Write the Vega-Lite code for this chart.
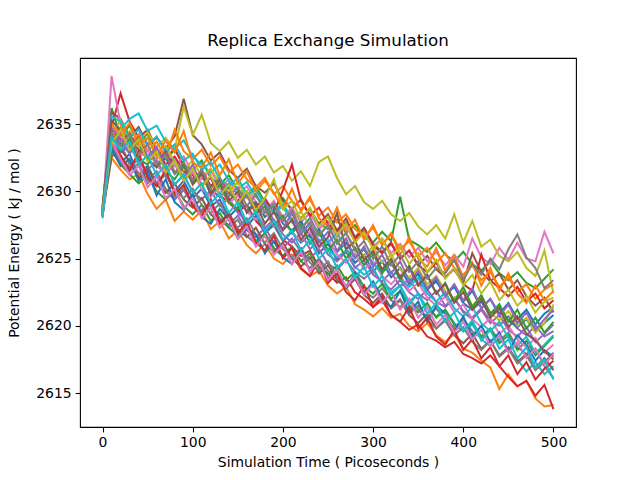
{
  "$schema": "https://vega.github.io/schema/vega-lite/v6.json",
  "width": 496,
  "height": 369,
  "autosize": {"type": "none"},
  "padding": {"left": 80, "top": 58, "right": 64, "bottom": 53},
  "background": "white",
  "title": {"text": "Replica Exchange Simulation", "fontSize": 16.7, "font": "DejaVu Sans", "fontWeight": "normal", "color": "black", "offset": 8},
  "data": {"values": [
{"r":0,"t":0,"e":2628.4},{"r":0,"t":10,"e":2633.0},{"r":0,"t":20,"e":2632.1},{"r":0,"t":30,"e":2632.8},{"r":0,"t":40,"e":2631.2},{"r":0,"t":50,"e":2631.9},{"r":0,"t":60,"e":2630.6},{"r":0,"t":70,"e":2631.3},{"r":0,"t":80,"e":2630.0},{"r":0,"t":90,"e":2630.8},{"r":0,"t":100,"e":2629.5},{"r":0,"t":110,"e":2630.2},{"r":0,"t":120,"e":2628.9},{"r":0,"t":130,"e":2629.4},{"r":0,"t":140,"e":2628.1},{"r":0,"t":150,"e":2628.8},{"r":0,"t":160,"e":2627.4},{"r":0,"t":170,"e":2628.2},{"r":0,"t":180,"e":2626.9},{"r":0,"t":190,"e":2627.5},{"r":0,"t":200,"e":2626.3},{"r":0,"t":210,"e":2627.0},{"r":0,"t":220,"e":2626.2},{"r":0,"t":230,"e":2626.8},{"r":0,"t":240,"e":2625.4},{"r":0,"t":250,"e":2626.1},{"r":0,"t":260,"e":2624.9},{"r":0,"t":270,"e":2625.6},{"r":0,"t":280,"e":2624.7},{"r":0,"t":290,"e":2625.3},{"r":0,"t":300,"e":2624.0},{"r":0,"t":310,"e":2624.8},{"r":0,"t":320,"e":2623.6},{"r":0,"t":330,"e":2624.3},{"r":0,"t":340,"e":2623.1},{"r":0,"t":350,"e":2623.9},{"r":0,"t":360,"e":2622.7},{"r":0,"t":370,"e":2623.4},{"r":0,"t":380,"e":2622.2},{"r":0,"t":390,"e":2623.0},{"r":0,"t":400,"e":2621.8},{"r":0,"t":410,"e":2622.6},{"r":0,"t":420,"e":2621.3},{"r":0,"t":430,"e":2622.0},{"r":0,"t":440,"e":2620.9},{"r":0,"t":450,"e":2621.7},{"r":0,"t":460,"e":2620.5},{"r":0,"t":470,"e":2621.2},{"r":0,"t":480,"e":2620.1},{"r":0,"t":490,"e":2620.9},{"r":0,"t":500,"e":2621.4},
{"r":1,"t":0,"e":2628.2},{"r":1,"t":10,"e":2632.5},{"r":1,"t":20,"e":2631.6},{"r":1,"t":30,"e":2630.9},{"r":1,"t":40,"e":2631.3},{"r":1,"t":50,"e":2629.8},{"r":1,"t":60,"e":2628.7},{"r":1,"t":70,"e":2629.4},{"r":1,"t":80,"e":2627.8},{"r":1,"t":90,"e":2628.5},{"r":1,"t":100,"e":2627.9},{"r":1,"t":110,"e":2628.6},{"r":1,"t":120,"e":2627.2},{"r":1,"t":130,"e":2627.8},{"r":1,"t":140,"e":2626.5},{"r":1,"t":150,"e":2627.1},{"r":1,"t":160,"e":2626.0},{"r":1,"t":170,"e":2625.4},{"r":1,"t":180,"e":2626.1},{"r":1,"t":190,"e":2625.0},{"r":1,"t":200,"e":2624.6},{"r":1,"t":210,"e":2625.3},{"r":1,"t":220,"e":2624.2},{"r":1,"t":230,"e":2623.7},{"r":1,"t":240,"e":2624.1},{"r":1,"t":250,"e":2623.0},{"r":1,"t":260,"e":2622.4},{"r":1,"t":270,"e":2622.9},{"r":1,"t":280,"e":2621.6},{"r":1,"t":290,"e":2621.2},{"r":1,"t":300,"e":2620.7},{"r":1,"t":310,"e":2621.3},{"r":1,"t":320,"e":2620.6},{"r":1,"t":330,"e":2620.9},{"r":1,"t":340,"e":2620.0},{"r":1,"t":350,"e":2619.6},{"r":1,"t":360,"e":2620.2},{"r":1,"t":370,"e":2619.3},{"r":1,"t":380,"e":2618.8},{"r":1,"t":390,"e":2619.4},{"r":1,"t":400,"e":2618.3},{"r":1,"t":410,"e":2618.0},{"r":1,"t":420,"e":2617.4},{"r":1,"t":430,"e":2616.9},{"r":1,"t":440,"e":2615.3},{"r":1,"t":450,"e":2616.4},{"r":1,"t":460,"e":2615.5},{"r":1,"t":470,"e":2615.9},{"r":1,"t":480,"e":2614.6},{"r":1,"t":490,"e":2614.0},{"r":1,"t":500,"e":2614.1},
{"r":2,"t":0,"e":2628.6},{"r":2,"t":10,"e":2636.2},{"r":2,"t":20,"e":2634.1},{"r":2,"t":30,"e":2634.9},{"r":2,"t":40,"e":2633.6},{"r":2,"t":50,"e":2634.3},{"r":2,"t":60,"e":2633.0},{"r":2,"t":70,"e":2632.4},{"r":2,"t":80,"e":2633.1},{"r":2,"t":90,"e":2632.0},{"r":2,"t":100,"e":2631.6},{"r":2,"t":110,"e":2632.3},{"r":2,"t":120,"e":2631.0},{"r":2,"t":130,"e":2630.5},{"r":2,"t":140,"e":2631.2},{"r":2,"t":150,"e":2630.1},{"r":2,"t":160,"e":2629.7},{"r":2,"t":170,"e":2630.4},{"r":2,"t":180,"e":2629.2},{"r":2,"t":190,"e":2628.8},{"r":2,"t":200,"e":2629.5},{"r":2,"t":210,"e":2628.6},{"r":2,"t":220,"e":2628.0},{"r":2,"t":230,"e":2628.7},{"r":2,"t":240,"e":2627.6},{"r":2,"t":250,"e":2627.2},{"r":2,"t":260,"e":2627.9},{"r":2,"t":270,"e":2626.9},{"r":2,"t":280,"e":2627.5},{"r":2,"t":290,"e":2626.6},{"r":2,"t":300,"e":2626.2},{"r":2,"t":310,"e":2627.0},{"r":2,"t":320,"e":2626.3},{"r":2,"t":330,"e":2629.6},{"r":2,"t":340,"e":2626.4},{"r":2,"t":350,"e":2626.0},{"r":2,"t":360,"e":2625.5},{"r":2,"t":370,"e":2626.2},{"r":2,"t":380,"e":2625.3},{"r":2,"t":390,"e":2624.8},{"r":2,"t":400,"e":2625.5},{"r":2,"t":410,"e":2624.6},{"r":2,"t":420,"e":2624.1},{"r":2,"t":430,"e":2624.8},{"r":2,"t":440,"e":2623.9},{"r":2,"t":450,"e":2623.4},{"r":2,"t":460,"e":2624.0},{"r":2,"t":470,"e":2623.2},{"r":2,"t":480,"e":2622.8},{"r":2,"t":490,"e":2623.5},{"r":2,"t":500,"e":2624.2},
{"r":3,"t":0,"e":2628.3},{"r":3,"t":10,"e":2634.8},{"r":3,"t":20,"e":2637.3},{"r":3,"t":30,"e":2635.2},{"r":3,"t":40,"e":2634.0},{"r":3,"t":50,"e":2634.6},{"r":3,"t":60,"e":2633.1},{"r":3,"t":70,"e":2632.5},{"r":3,"t":80,"e":2633.2},{"r":3,"t":90,"e":2631.8},{"r":3,"t":100,"e":2631.2},{"r":3,"t":110,"e":2630.5},{"r":3,"t":120,"e":2631.0},{"r":3,"t":130,"e":2629.7},{"r":3,"t":140,"e":2629.2},{"r":3,"t":150,"e":2628.5},{"r":3,"t":160,"e":2629.0},{"r":3,"t":170,"e":2627.8},{"r":3,"t":180,"e":2627.1},{"r":3,"t":190,"e":2627.6},{"r":3,"t":200,"e":2626.4},{"r":3,"t":210,"e":2625.9},{"r":3,"t":220,"e":2625.2},{"r":3,"t":230,"e":2625.6},{"r":3,"t":240,"e":2624.4},{"r":3,"t":250,"e":2623.9},{"r":3,"t":260,"e":2623.2},{"r":3,"t":270,"e":2623.6},{"r":3,"t":280,"e":2622.5},{"r":3,"t":290,"e":2622.0},{"r":3,"t":300,"e":2621.4},{"r":3,"t":310,"e":2621.9},{"r":3,"t":320,"e":2620.8},{"r":3,"t":330,"e":2620.3},{"r":3,"t":340,"e":2619.7},{"r":3,"t":350,"e":2620.1},{"r":3,"t":360,"e":2619.2},{"r":3,"t":370,"e":2618.9},{"r":3,"t":380,"e":2618.4},{"r":3,"t":390,"e":2618.8},{"r":3,"t":400,"e":2617.9},{"r":3,"t":410,"e":2617.6},{"r":3,"t":420,"e":2617.2},{"r":3,"t":430,"e":2617.8},{"r":3,"t":440,"e":2617.0},{"r":3,"t":450,"e":2616.2},{"r":3,"t":460,"e":2615.5},{"r":3,"t":470,"e":2615.9},{"r":3,"t":480,"e":2614.8},{"r":3,"t":490,"e":2615.6},{"r":3,"t":500,"e":2613.8},
{"r":4,"t":0,"e":2628.5},{"r":4,"t":10,"e":2633.4},{"r":4,"t":20,"e":2632.2},{"r":4,"t":30,"e":2631.5},{"r":4,"t":40,"e":2632.1},{"r":4,"t":50,"e":2630.6},{"r":4,"t":60,"e":2631.2},{"r":4,"t":70,"e":2630.0},{"r":4,"t":80,"e":2629.4},{"r":4,"t":90,"e":2630.1},{"r":4,"t":100,"e":2629.0},{"r":4,"t":110,"e":2628.6},{"r":4,"t":120,"e":2629.2},{"r":4,"t":130,"e":2628.0},{"r":4,"t":140,"e":2627.5},{"r":4,"t":150,"e":2628.2},{"r":4,"t":160,"e":2627.1},{"r":4,"t":170,"e":2626.6},{"r":4,"t":180,"e":2627.3},{"r":4,"t":190,"e":2626.2},{"r":4,"t":200,"e":2625.8},{"r":4,"t":210,"e":2626.5},{"r":4,"t":220,"e":2625.5},{"r":4,"t":230,"e":2625.0},{"r":4,"t":240,"e":2625.7},{"r":4,"t":250,"e":2624.6},{"r":4,"t":260,"e":2624.2},{"r":4,"t":270,"e":2624.9},{"r":4,"t":280,"e":2624.0},{"r":4,"t":290,"e":2623.5},{"r":4,"t":300,"e":2624.1},{"r":4,"t":310,"e":2623.2},{"r":4,"t":320,"e":2622.7},{"r":4,"t":330,"e":2623.4},{"r":4,"t":340,"e":2622.5},{"r":4,"t":350,"e":2622.0},{"r":4,"t":360,"e":2622.7},{"r":4,"t":370,"e":2621.8},{"r":4,"t":380,"e":2621.4},{"r":4,"t":390,"e":2622.0},{"r":4,"t":400,"e":2621.1},{"r":4,"t":410,"e":2620.6},{"r":4,"t":420,"e":2621.3},{"r":4,"t":430,"e":2620.4},{"r":4,"t":440,"e":2620.0},{"r":4,"t":450,"e":2620.7},{"r":4,"t":460,"e":2619.8},{"r":4,"t":470,"e":2619.3},{"r":4,"t":480,"e":2620.0},{"r":4,"t":490,"e":2619.2},{"r":4,"t":500,"e":2619.6},
{"r":5,"t":0,"e":2628.7},{"r":5,"t":10,"e":2635.9},{"r":5,"t":20,"e":2635.4},{"r":5,"t":30,"e":2634.1},{"r":5,"t":40,"e":2634.8},{"r":5,"t":50,"e":2633.5},{"r":5,"t":60,"e":2634.0},{"r":5,"t":70,"e":2633.2},{"r":5,"t":80,"e":2634.1},{"r":5,"t":90,"e":2636.9},{"r":5,"t":100,"e":2634.2},{"r":5,"t":110,"e":2633.5},{"r":5,"t":120,"e":2632.3},{"r":5,"t":130,"e":2632.9},{"r":5,"t":140,"e":2631.6},{"r":5,"t":150,"e":2631.0},{"r":5,"t":160,"e":2631.7},{"r":5,"t":170,"e":2630.4},{"r":5,"t":180,"e":2629.9},{"r":5,"t":190,"e":2630.6},{"r":5,"t":200,"e":2629.3},{"r":5,"t":210,"e":2628.7},{"r":5,"t":220,"e":2629.4},{"r":5,"t":230,"e":2628.2},{"r":5,"t":240,"e":2627.6},{"r":5,"t":250,"e":2628.3},{"r":5,"t":260,"e":2627.1},{"r":5,"t":270,"e":2628.0},{"r":5,"t":280,"e":2626.6},{"r":5,"t":290,"e":2627.3},{"r":5,"t":300,"e":2626.1},{"r":5,"t":310,"e":2625.5},{"r":5,"t":320,"e":2626.2},{"r":5,"t":330,"e":2625.0},{"r":5,"t":340,"e":2625.6},{"r":5,"t":350,"e":2624.5},{"r":5,"t":360,"e":2625.2},{"r":5,"t":370,"e":2624.2},{"r":5,"t":380,"e":2623.6},{"r":5,"t":390,"e":2624.3},{"r":5,"t":400,"e":2623.2},{"r":5,"t":410,"e":2625.4},{"r":5,"t":420,"e":2624.0},{"r":5,"t":430,"e":2623.3},{"r":5,"t":440,"e":2623.9},{"r":5,"t":450,"e":2622.7},{"r":5,"t":460,"e":2623.4},{"r":5,"t":470,"e":2622.2},{"r":5,"t":480,"e":2621.5},{"r":5,"t":490,"e":2622.1},{"r":5,"t":500,"e":2621.0},
{"r":6,"t":0,"e":2628.1},{"r":6,"t":10,"e":2638.6},{"r":6,"t":20,"e":2635.0},{"r":6,"t":30,"e":2633.6},{"r":6,"t":40,"e":2634.3},{"r":6,"t":50,"e":2633.0},{"r":6,"t":60,"e":2632.4},{"r":6,"t":70,"e":2633.1},{"r":6,"t":80,"e":2631.9},{"r":6,"t":90,"e":2632.6},{"r":6,"t":100,"e":2631.4},{"r":6,"t":110,"e":2630.9},{"r":6,"t":120,"e":2631.6},{"r":6,"t":130,"e":2630.3},{"r":6,"t":140,"e":2630.9},{"r":6,"t":150,"e":2629.7},{"r":6,"t":160,"e":2630.4},{"r":6,"t":170,"e":2629.2},{"r":6,"t":180,"e":2628.6},{"r":6,"t":190,"e":2629.3},{"r":6,"t":200,"e":2628.1},{"r":6,"t":210,"e":2628.8},{"r":6,"t":220,"e":2627.7},{"r":6,"t":230,"e":2628.4},{"r":6,"t":240,"e":2627.2},{"r":6,"t":250,"e":2627.8},{"r":6,"t":260,"e":2626.6},{"r":6,"t":270,"e":2627.4},{"r":6,"t":280,"e":2626.3},{"r":6,"t":290,"e":2627.0},{"r":6,"t":300,"e":2625.9},{"r":6,"t":310,"e":2626.5},{"r":6,"t":320,"e":2625.4},{"r":6,"t":330,"e":2626.1},{"r":6,"t":340,"e":2625.1},{"r":6,"t":350,"e":2625.8},{"r":6,"t":360,"e":2624.8},{"r":6,"t":370,"e":2625.5},{"r":6,"t":380,"e":2624.5},{"r":6,"t":390,"e":2625.3},{"r":6,"t":400,"e":2624.4},{"r":6,"t":410,"e":2626.5},{"r":6,"t":420,"e":2625.1},{"r":6,"t":430,"e":2624.6},{"r":6,"t":440,"e":2625.8},{"r":6,"t":450,"e":2624.9},{"r":6,"t":460,"e":2626.2},{"r":6,"t":470,"e":2625.0},{"r":6,"t":480,"e":2624.8},{"r":6,"t":490,"e":2627.0},{"r":6,"t":500,"e":2625.4},
{"r":7,"t":0,"e":2628.4},{"r":7,"t":10,"e":2632.8},{"r":7,"t":20,"e":2633.6},{"r":7,"t":30,"e":2632.0},{"r":7,"t":40,"e":2631.4},{"r":7,"t":50,"e":2630.8},{"r":7,"t":60,"e":2631.5},{"r":7,"t":70,"e":2630.2},{"r":7,"t":80,"e":2629.6},{"r":7,"t":90,"e":2630.3},{"r":7,"t":100,"e":2629.1},{"r":7,"t":110,"e":2628.5},{"r":7,"t":120,"e":2629.0},{"r":7,"t":130,"e":2627.9},{"r":7,"t":140,"e":2627.3},{"r":7,"t":150,"e":2627.9},{"r":7,"t":160,"e":2626.7},{"r":7,"t":170,"e":2626.1},{"r":7,"t":180,"e":2626.8},{"r":7,"t":190,"e":2625.7},{"r":7,"t":200,"e":2625.2},{"r":7,"t":210,"e":2625.9},{"r":7,"t":220,"e":2624.8},{"r":7,"t":230,"e":2624.3},{"r":7,"t":240,"e":2625.0},{"r":7,"t":250,"e":2624.1},{"r":7,"t":260,"e":2623.6},{"r":7,"t":270,"e":2622.9},{"r":7,"t":280,"e":2623.5},{"r":7,"t":290,"e":2622.6},{"r":7,"t":300,"e":2622.1},{"r":7,"t":310,"e":2622.8},{"r":7,"t":320,"e":2621.9},{"r":7,"t":330,"e":2621.4},{"r":7,"t":340,"e":2622.0},{"r":7,"t":350,"e":2621.2},{"r":7,"t":360,"e":2620.6},{"r":7,"t":370,"e":2621.3},{"r":7,"t":380,"e":2620.4},{"r":7,"t":390,"e":2619.9},{"r":7,"t":400,"e":2620.5},{"r":7,"t":410,"e":2619.6},{"r":7,"t":420,"e":2619.1},{"r":7,"t":430,"e":2619.8},{"r":7,"t":440,"e":2618.9},{"r":7,"t":450,"e":2619.5},{"r":7,"t":460,"e":2618.4},{"r":7,"t":470,"e":2617.9},{"r":7,"t":480,"e":2618.3},{"r":7,"t":490,"e":2617.0},{"r":7,"t":500,"e":2616.1},
{"r":8,"t":0,"e":2628.9},{"r":8,"t":10,"e":2634.0},{"r":8,"t":20,"e":2633.2},{"r":8,"t":30,"e":2634.5},{"r":8,"t":40,"e":2633.8},{"r":8,"t":50,"e":2634.4},{"r":8,"t":60,"e":2633.3},{"r":8,"t":70,"e":2634.0},{"r":8,"t":80,"e":2633.1},{"r":8,"t":90,"e":2636.3},{"r":8,"t":100,"e":2634.2},{"r":8,"t":110,"e":2635.7},{"r":8,"t":120,"e":2633.6},{"r":8,"t":130,"e":2633.0},{"r":8,"t":140,"e":2633.7},{"r":8,"t":150,"e":2632.5},{"r":8,"t":160,"e":2633.1},{"r":8,"t":170,"e":2632.0},{"r":8,"t":180,"e":2632.6},{"r":8,"t":190,"e":2631.4},{"r":8,"t":200,"e":2631.9},{"r":8,"t":210,"e":2630.8},{"r":8,"t":220,"e":2631.5},{"r":8,"t":230,"e":2630.4},{"r":8,"t":240,"e":2632.2},{"r":8,"t":250,"e":2632.6},{"r":8,"t":260,"e":2631.0},{"r":8,"t":270,"e":2629.8},{"r":8,"t":280,"e":2630.4},{"r":8,"t":290,"e":2629.2},{"r":8,"t":300,"e":2628.7},{"r":8,"t":310,"e":2629.3},{"r":8,"t":320,"e":2628.3},{"r":8,"t":330,"e":2627.8},{"r":8,"t":340,"e":2628.4},{"r":8,"t":350,"e":2627.4},{"r":8,"t":360,"e":2626.8},{"r":8,"t":370,"e":2627.5},{"r":8,"t":380,"e":2626.5},{"r":8,"t":390,"e":2628.3},{"r":8,"t":400,"e":2626.2},{"r":8,"t":410,"e":2627.8},{"r":8,"t":420,"e":2625.9},{"r":8,"t":430,"e":2626.4},{"r":8,"t":440,"e":2625.2},{"r":8,"t":450,"e":2624.8},{"r":8,"t":460,"e":2625.5},{"r":8,"t":470,"e":2624.3},{"r":8,"t":480,"e":2623.7},{"r":8,"t":490,"e":2625.6},{"r":8,"t":500,"e":2622.4},
{"r":9,"t":0,"e":2628.0},{"r":9,"t":10,"e":2635.2},{"r":9,"t":20,"e":2634.6},{"r":9,"t":30,"e":2635.4},{"r":9,"t":40,"e":2635.8},{"r":9,"t":50,"e":2634.5},{"r":9,"t":60,"e":2634.9},{"r":9,"t":70,"e":2633.7},{"r":9,"t":80,"e":2633.2},{"r":9,"t":90,"e":2633.8},{"r":9,"t":100,"e":2632.6},{"r":9,"t":110,"e":2632.0},{"r":9,"t":120,"e":2631.4},{"r":9,"t":130,"e":2632.0},{"r":9,"t":140,"e":2630.8},{"r":9,"t":150,"e":2630.2},{"r":9,"t":160,"e":2630.7},{"r":9,"t":170,"e":2629.6},{"r":9,"t":180,"e":2629.0},{"r":9,"t":190,"e":2628.4},{"r":9,"t":200,"e":2628.9},{"r":9,"t":210,"e":2627.7},{"r":9,"t":220,"e":2627.0},{"r":9,"t":230,"e":2627.5},{"r":9,"t":240,"e":2626.3},{"r":9,"t":250,"e":2625.7},{"r":9,"t":260,"e":2625.1},{"r":9,"t":270,"e":2625.6},{"r":9,"t":280,"e":2624.4},{"r":9,"t":290,"e":2623.8},{"r":9,"t":300,"e":2624.3},{"r":9,"t":310,"e":2623.1},{"r":9,"t":320,"e":2622.5},{"r":9,"t":330,"e":2623.0},{"r":9,"t":340,"e":2621.8},{"r":9,"t":350,"e":2622.4},{"r":9,"t":360,"e":2621.3},{"r":9,"t":370,"e":2620.7},{"r":9,"t":380,"e":2621.2},{"r":9,"t":390,"e":2620.2},{"r":9,"t":400,"e":2619.6},{"r":9,"t":410,"e":2620.1},{"r":9,"t":420,"e":2619.0},{"r":9,"t":430,"e":2618.5},{"r":9,"t":440,"e":2619.1},{"r":9,"t":450,"e":2618.2},{"r":9,"t":460,"e":2617.5},{"r":9,"t":470,"e":2616.6},{"r":9,"t":480,"e":2617.3},{"r":9,"t":490,"e":2616.4},{"r":9,"t":500,"e":2617.0},
{"r":10,"t":0,"e":2628.6},{"r":10,"t":10,"e":2634.4},{"r":10,"t":20,"e":2633.5},{"r":10,"t":30,"e":2632.9},{"r":10,"t":40,"e":2633.5},{"r":10,"t":50,"e":2632.3},{"r":10,"t":60,"e":2631.8},{"r":10,"t":70,"e":2632.5},{"r":10,"t":80,"e":2631.3},{"r":10,"t":90,"e":2631.9},{"r":10,"t":100,"e":2630.7},{"r":10,"t":110,"e":2631.3},{"r":10,"t":120,"e":2630.1},{"r":10,"t":130,"e":2629.6},{"r":10,"t":140,"e":2630.3},{"r":10,"t":150,"e":2629.1},{"r":10,"t":160,"e":2628.6},{"r":10,"t":170,"e":2629.2},{"r":10,"t":180,"e":2628.1},{"r":10,"t":190,"e":2628.7},{"r":10,"t":200,"e":2627.6},{"r":10,"t":210,"e":2627.1},{"r":10,"t":220,"e":2627.8},{"r":10,"t":230,"e":2626.6},{"r":10,"t":240,"e":2627.2},{"r":10,"t":250,"e":2626.1},{"r":10,"t":260,"e":2625.5},{"r":10,"t":270,"e":2626.2},{"r":10,"t":280,"e":2625.1},{"r":10,"t":290,"e":2625.7},{"r":10,"t":300,"e":2624.6},{"r":10,"t":310,"e":2624.1},{"r":10,"t":320,"e":2624.7},{"r":10,"t":330,"e":2623.6},{"r":10,"t":340,"e":2624.3},{"r":10,"t":350,"e":2623.2},{"r":10,"t":360,"e":2622.7},{"r":10,"t":370,"e":2623.3},{"r":10,"t":380,"e":2622.3},{"r":10,"t":390,"e":2622.9},{"r":10,"t":400,"e":2621.7},{"r":10,"t":410,"e":2621.2},{"r":10,"t":420,"e":2621.8},{"r":10,"t":430,"e":2620.8},{"r":10,"t":440,"e":2621.4},{"r":10,"t":450,"e":2620.4},{"r":10,"t":460,"e":2619.9},{"r":10,"t":470,"e":2620.5},{"r":10,"t":480,"e":2619.6},{"r":10,"t":490,"e":2620.2},{"r":10,"t":500,"e":2620.8},
{"r":11,"t":0,"e":2628.3},{"r":11,"t":10,"e":2633.9},{"r":11,"t":20,"e":2634.8},{"r":11,"t":30,"e":2633.6},{"r":11,"t":40,"e":2634.2},{"r":11,"t":50,"e":2633.0},{"r":11,"t":60,"e":2633.7},{"r":11,"t":70,"e":2632.5},{"r":11,"t":80,"e":2634.6},{"r":11,"t":90,"e":2633.0},{"r":11,"t":100,"e":2632.4},{"r":11,"t":110,"e":2633.1},{"r":11,"t":120,"e":2631.9},{"r":11,"t":130,"e":2632.6},{"r":11,"t":140,"e":2631.4},{"r":11,"t":150,"e":2632.0},{"r":11,"t":160,"e":2630.9},{"r":11,"t":170,"e":2630.3},{"r":11,"t":180,"e":2631.0},{"r":11,"t":190,"e":2629.8},{"r":11,"t":200,"e":2630.4},{"r":11,"t":210,"e":2629.3},{"r":11,"t":220,"e":2628.7},{"r":11,"t":230,"e":2629.4},{"r":11,"t":240,"e":2628.2},{"r":11,"t":250,"e":2628.8},{"r":11,"t":260,"e":2627.7},{"r":11,"t":270,"e":2628.3},{"r":11,"t":280,"e":2627.2},{"r":11,"t":290,"e":2626.6},{"r":11,"t":300,"e":2627.3},{"r":11,"t":310,"e":2626.1},{"r":11,"t":320,"e":2626.8},{"r":11,"t":330,"e":2625.7},{"r":11,"t":340,"e":2626.3},{"r":11,"t":350,"e":2625.2},{"r":11,"t":360,"e":2625.8},{"r":11,"t":370,"e":2624.7},{"r":11,"t":380,"e":2625.4},{"r":11,"t":390,"e":2624.3},{"r":11,"t":400,"e":2623.8},{"r":11,"t":410,"e":2624.5},{"r":11,"t":420,"e":2623.4},{"r":11,"t":430,"e":2624.0},{"r":11,"t":440,"e":2622.9},{"r":11,"t":450,"e":2623.6},{"r":11,"t":460,"e":2622.5},{"r":11,"t":470,"e":2623.1},{"r":11,"t":480,"e":2622.0},{"r":11,"t":490,"e":2622.7},{"r":11,"t":500,"e":2623.1},
{"r":12,"t":0,"e":2628.2},{"r":12,"t":10,"e":2633.1},{"r":12,"t":20,"e":2632.0},{"r":12,"t":30,"e":2631.3},{"r":12,"t":40,"e":2630.6},{"r":12,"t":50,"e":2631.2},{"r":12,"t":60,"e":2630.0},{"r":12,"t":70,"e":2629.4},{"r":12,"t":80,"e":2630.1},{"r":12,"t":90,"e":2628.9},{"r":12,"t":100,"e":2628.3},{"r":12,"t":110,"e":2629.0},{"r":12,"t":120,"e":2627.8},{"r":12,"t":130,"e":2628.4},{"r":12,"t":140,"e":2627.3},{"r":12,"t":150,"e":2626.7},{"r":12,"t":160,"e":2627.4},{"r":12,"t":170,"e":2626.3},{"r":12,"t":180,"e":2626.9},{"r":12,"t":190,"e":2625.8},{"r":12,"t":200,"e":2625.2},{"r":12,"t":210,"e":2625.9},{"r":12,"t":220,"e":2624.8},{"r":12,"t":230,"e":2625.4},{"r":12,"t":240,"e":2624.3},{"r":12,"t":250,"e":2623.8},{"r":12,"t":260,"e":2624.5},{"r":12,"t":270,"e":2623.4},{"r":12,"t":280,"e":2624.0},{"r":12,"t":290,"e":2622.9},{"r":12,"t":300,"e":2622.4},{"r":12,"t":310,"e":2623.1},{"r":12,"t":320,"e":2622.0},{"r":12,"t":330,"e":2622.6},{"r":12,"t":340,"e":2621.5},{"r":12,"t":350,"e":2621.0},{"r":12,"t":360,"e":2621.7},{"r":12,"t":370,"e":2620.6},{"r":12,"t":380,"e":2621.2},{"r":12,"t":390,"e":2620.1},{"r":12,"t":400,"e":2619.6},{"r":12,"t":410,"e":2620.3},{"r":12,"t":420,"e":2619.2},{"r":12,"t":430,"e":2619.8},{"r":12,"t":440,"e":2618.7},{"r":12,"t":450,"e":2619.3},{"r":12,"t":460,"e":2618.2},{"r":12,"t":470,"e":2618.9},{"r":12,"t":480,"e":2617.8},{"r":12,"t":490,"e":2618.5},{"r":12,"t":500,"e":2619.2},
{"r":13,"t":0,"e":2628.8},{"r":13,"t":10,"e":2634.6},{"r":13,"t":20,"e":2633.8},{"r":13,"t":30,"e":2634.3},{"r":13,"t":40,"e":2633.1},{"r":13,"t":50,"e":2632.5},{"r":13,"t":60,"e":2633.2},{"r":13,"t":70,"e":2632.0},{"r":13,"t":80,"e":2632.6},{"r":13,"t":90,"e":2631.5},{"r":13,"t":100,"e":2630.9},{"r":13,"t":110,"e":2631.6},{"r":13,"t":120,"e":2630.4},{"r":13,"t":130,"e":2631.0},{"r":13,"t":140,"e":2629.9},{"r":13,"t":150,"e":2629.3},{"r":13,"t":160,"e":2630.0},{"r":13,"t":170,"e":2628.8},{"r":13,"t":180,"e":2629.5},{"r":13,"t":190,"e":2628.4},{"r":13,"t":200,"e":2630.1},{"r":13,"t":210,"e":2632.0},{"r":13,"t":220,"e":2629.3},{"r":13,"t":230,"e":2628.2},{"r":13,"t":240,"e":2628.8},{"r":13,"t":250,"e":2627.6},{"r":13,"t":260,"e":2627.0},{"r":13,"t":270,"e":2627.7},{"r":13,"t":280,"e":2626.5},{"r":13,"t":290,"e":2627.1},{"r":13,"t":300,"e":2626.0},{"r":13,"t":310,"e":2625.4},{"r":13,"t":320,"e":2626.1},{"r":13,"t":330,"e":2625.0},{"r":13,"t":340,"e":2625.6},{"r":13,"t":350,"e":2624.5},{"r":13,"t":360,"e":2624.0},{"r":13,"t":370,"e":2624.7},{"r":13,"t":380,"e":2623.6},{"r":13,"t":390,"e":2624.2},{"r":13,"t":400,"e":2623.1},{"r":13,"t":410,"e":2622.6},{"r":13,"t":420,"e":2625.3},{"r":13,"t":430,"e":2623.4},{"r":13,"t":440,"e":2622.8},{"r":13,"t":450,"e":2622.2},{"r":13,"t":460,"e":2622.9},{"r":13,"t":470,"e":2621.8},{"r":13,"t":480,"e":2622.4},{"r":13,"t":490,"e":2621.3},{"r":13,"t":500,"e":2621.9},
{"r":14,"t":0,"e":2628.4},{"r":14,"t":10,"e":2633.7},{"r":14,"t":20,"e":2632.9},{"r":14,"t":30,"e":2633.4},{"r":14,"t":40,"e":2632.2},{"r":14,"t":50,"e":2631.6},{"r":14,"t":60,"e":2632.3},{"r":14,"t":70,"e":2631.1},{"r":14,"t":80,"e":2630.5},{"r":14,"t":90,"e":2631.2},{"r":14,"t":100,"e":2630.0},{"r":14,"t":110,"e":2629.4},{"r":14,"t":120,"e":2630.1},{"r":14,"t":130,"e":2628.9},{"r":14,"t":140,"e":2629.5},{"r":14,"t":150,"e":2628.4},{"r":14,"t":160,"e":2627.8},{"r":14,"t":170,"e":2628.5},{"r":14,"t":180,"e":2627.3},{"r":14,"t":190,"e":2627.9},{"r":14,"t":200,"e":2626.8},{"r":14,"t":210,"e":2626.2},{"r":14,"t":220,"e":2626.9},{"r":14,"t":230,"e":2625.7},{"r":14,"t":240,"e":2626.4},{"r":14,"t":250,"e":2625.3},{"r":14,"t":260,"e":2624.8},{"r":14,"t":270,"e":2625.5},{"r":14,"t":280,"e":2624.3},{"r":14,"t":290,"e":2624.9},{"r":14,"t":300,"e":2623.8},{"r":14,"t":310,"e":2623.3},{"r":14,"t":320,"e":2624.0},{"r":14,"t":330,"e":2622.9},{"r":14,"t":340,"e":2623.5},{"r":14,"t":350,"e":2622.4},{"r":14,"t":360,"e":2621.9},{"r":14,"t":370,"e":2622.6},{"r":14,"t":380,"e":2621.5},{"r":14,"t":390,"e":2622.1},{"r":14,"t":400,"e":2621.0},{"r":14,"t":410,"e":2620.5},{"r":14,"t":420,"e":2621.2},{"r":14,"t":430,"e":2620.2},{"r":14,"t":440,"e":2620.8},{"r":14,"t":450,"e":2619.7},{"r":14,"t":460,"e":2619.2},{"r":14,"t":470,"e":2619.9},{"r":14,"t":480,"e":2618.8},{"r":14,"t":490,"e":2619.4},{"r":14,"t":500,"e":2620.1},
{"r":15,"t":0,"e":2628.5},{"r":15,"t":10,"e":2632.6},{"r":15,"t":20,"e":2633.1},{"r":15,"t":30,"e":2632.3},{"r":15,"t":40,"e":2631.0},{"r":15,"t":50,"e":2631.7},{"r":15,"t":60,"e":2630.5},{"r":15,"t":70,"e":2629.9},{"r":15,"t":80,"e":2630.6},{"r":15,"t":90,"e":2629.4},{"r":15,"t":100,"e":2628.8},{"r":15,"t":110,"e":2629.5},{"r":15,"t":120,"e":2628.3},{"r":15,"t":130,"e":2627.7},{"r":15,"t":140,"e":2628.4},{"r":15,"t":150,"e":2627.2},{"r":15,"t":160,"e":2626.6},{"r":15,"t":170,"e":2627.3},{"r":15,"t":180,"e":2626.1},{"r":15,"t":190,"e":2625.5},{"r":15,"t":200,"e":2626.2},{"r":15,"t":210,"e":2625.0},{"r":15,"t":220,"e":2624.4},{"r":15,"t":230,"e":2625.1},{"r":15,"t":240,"e":2623.9},{"r":15,"t":250,"e":2624.5},{"r":15,"t":260,"e":2623.4},{"r":15,"t":270,"e":2622.8},{"r":15,"t":280,"e":2623.5},{"r":15,"t":290,"e":2622.3},{"r":15,"t":300,"e":2621.7},{"r":15,"t":310,"e":2622.4},{"r":15,"t":320,"e":2621.3},{"r":15,"t":330,"e":2621.9},{"r":15,"t":340,"e":2620.8},{"r":15,"t":350,"e":2620.2},{"r":15,"t":360,"e":2620.9},{"r":15,"t":370,"e":2619.8},{"r":15,"t":380,"e":2620.4},{"r":15,"t":390,"e":2619.3},{"r":15,"t":400,"e":2618.7},{"r":15,"t":410,"e":2619.4},{"r":15,"t":420,"e":2618.3},{"r":15,"t":430,"e":2618.9},{"r":15,"t":440,"e":2617.8},{"r":15,"t":450,"e":2618.4},{"r":15,"t":460,"e":2617.3},{"r":15,"t":470,"e":2617.9},{"r":15,"t":480,"e":2616.9},{"r":15,"t":490,"e":2617.6},{"r":15,"t":500,"e":2616.7},
{"r":16,"t":0,"e":2628.6},{"r":16,"t":10,"e":2634.9},{"r":16,"t":20,"e":2634.0},{"r":16,"t":30,"e":2633.2},{"r":16,"t":40,"e":2632.5},{"r":16,"t":50,"e":2633.1},{"r":16,"t":60,"e":2631.9},{"r":16,"t":70,"e":2631.3},{"r":16,"t":80,"e":2632.0},{"r":16,"t":90,"e":2630.8},{"r":16,"t":100,"e":2631.4},{"r":16,"t":110,"e":2630.2},{"r":16,"t":120,"e":2629.6},{"r":16,"t":130,"e":2630.3},{"r":16,"t":140,"e":2629.1},{"r":16,"t":150,"e":2629.7},{"r":16,"t":160,"e":2628.5},{"r":16,"t":170,"e":2627.9},{"r":16,"t":180,"e":2628.6},{"r":16,"t":190,"e":2627.4},{"r":16,"t":200,"e":2628.0},{"r":16,"t":210,"e":2626.9},{"r":16,"t":220,"e":2626.3},{"r":16,"t":230,"e":2627.0},{"r":16,"t":240,"e":2625.8},{"r":16,"t":250,"e":2626.4},{"r":16,"t":260,"e":2625.3},{"r":16,"t":270,"e":2624.7},{"r":16,"t":280,"e":2625.4},{"r":16,"t":290,"e":2624.2},{"r":16,"t":300,"e":2624.8},{"r":16,"t":310,"e":2623.7},{"r":16,"t":320,"e":2623.1},{"r":16,"t":330,"e":2623.8},{"r":16,"t":340,"e":2622.6},{"r":16,"t":350,"e":2623.2},{"r":16,"t":360,"e":2622.1},{"r":16,"t":370,"e":2621.5},{"r":16,"t":380,"e":2622.2},{"r":16,"t":390,"e":2621.0},{"r":16,"t":400,"e":2621.6},{"r":16,"t":410,"e":2620.5},{"r":16,"t":420,"e":2619.9},{"r":16,"t":430,"e":2620.6},{"r":16,"t":440,"e":2619.4},{"r":16,"t":450,"e":2620.0},{"r":16,"t":460,"e":2619.0},{"r":16,"t":470,"e":2618.4},{"r":16,"t":480,"e":2619.1},{"r":16,"t":490,"e":2618.0},{"r":16,"t":500,"e":2618.6},
{"r":17,"t":0,"e":2628.3},{"r":17,"t":10,"e":2633.3},{"r":17,"t":20,"e":2632.5},{"r":17,"t":30,"e":2631.8},{"r":17,"t":40,"e":2632.4},{"r":17,"t":50,"e":2631.2},{"r":17,"t":60,"e":2630.6},{"r":17,"t":70,"e":2631.3},{"r":17,"t":80,"e":2630.1},{"r":17,"t":90,"e":2629.5},{"r":17,"t":100,"e":2630.2},{"r":17,"t":110,"e":2629.0},{"r":17,"t":120,"e":2628.4},{"r":17,"t":130,"e":2629.1},{"r":17,"t":140,"e":2627.9},{"r":17,"t":150,"e":2627.3},{"r":17,"t":160,"e":2628.0},{"r":17,"t":170,"e":2626.8},{"r":17,"t":180,"e":2626.2},{"r":17,"t":190,"e":2626.9},{"r":17,"t":200,"e":2625.7},{"r":17,"t":210,"e":2625.1},{"r":17,"t":220,"e":2625.8},{"r":17,"t":230,"e":2624.7},{"r":17,"t":240,"e":2624.1},{"r":17,"t":250,"e":2624.8},{"r":17,"t":260,"e":2623.6},{"r":17,"t":270,"e":2623.0},{"r":17,"t":280,"e":2623.7},{"r":17,"t":290,"e":2622.5},{"r":17,"t":300,"e":2623.1},{"r":17,"t":310,"e":2621.9},{"r":17,"t":320,"e":2621.4},{"r":17,"t":330,"e":2622.0},{"r":17,"t":340,"e":2620.9},{"r":17,"t":350,"e":2621.5},{"r":17,"t":360,"e":2620.4},{"r":17,"t":370,"e":2619.8},{"r":17,"t":380,"e":2620.5},{"r":17,"t":390,"e":2619.3},{"r":17,"t":400,"e":2619.9},{"r":17,"t":410,"e":2618.8},{"r":17,"t":420,"e":2618.2},{"r":17,"t":430,"e":2618.9},{"r":17,"t":440,"e":2617.7},{"r":17,"t":450,"e":2618.3},{"r":17,"t":460,"e":2617.2},{"r":17,"t":470,"e":2617.8},{"r":17,"t":480,"e":2616.7},{"r":17,"t":490,"e":2617.3},{"r":17,"t":500,"e":2618.0},
{"r":18,"t":0,"e":2628.7},{"r":18,"t":10,"e":2634.1},{"r":18,"t":20,"e":2635.3},{"r":18,"t":30,"e":2633.9},{"r":18,"t":40,"e":2633.3},{"r":18,"t":50,"e":2634.0},{"r":18,"t":60,"e":2632.8},{"r":18,"t":70,"e":2633.4},{"r":18,"t":80,"e":2632.2},{"r":18,"t":90,"e":2631.6},{"r":18,"t":100,"e":2632.3},{"r":18,"t":110,"e":2631.1},{"r":18,"t":120,"e":2631.7},{"r":18,"t":130,"e":2630.6},{"r":18,"t":140,"e":2630.0},{"r":18,"t":150,"e":2630.7},{"r":18,"t":160,"e":2629.5},{"r":18,"t":170,"e":2630.1},{"r":18,"t":180,"e":2629.0},{"r":18,"t":190,"e":2628.4},{"r":18,"t":200,"e":2629.1},{"r":18,"t":210,"e":2627.9},{"r":18,"t":220,"e":2628.5},{"r":18,"t":230,"e":2627.4},{"r":18,"t":240,"e":2626.8},{"r":18,"t":250,"e":2627.5},{"r":18,"t":260,"e":2626.3},{"r":18,"t":270,"e":2626.9},{"r":18,"t":280,"e":2625.8},{"r":18,"t":290,"e":2625.2},{"r":18,"t":300,"e":2625.9},{"r":18,"t":310,"e":2624.7},{"r":18,"t":320,"e":2625.3},{"r":18,"t":330,"e":2624.2},{"r":18,"t":340,"e":2623.6},{"r":18,"t":350,"e":2624.3},{"r":18,"t":360,"e":2623.1},{"r":18,"t":370,"e":2623.7},{"r":18,"t":380,"e":2622.6},{"r":18,"t":390,"e":2622.0},{"r":18,"t":400,"e":2622.7},{"r":18,"t":410,"e":2621.5},{"r":18,"t":420,"e":2622.1},{"r":18,"t":430,"e":2621.0},{"r":18,"t":440,"e":2620.4},{"r":18,"t":450,"e":2621.1},{"r":18,"t":460,"e":2620.0},{"r":18,"t":470,"e":2620.6},{"r":18,"t":480,"e":2619.5},{"r":18,"t":490,"e":2620.2},{"r":18,"t":500,"e":2621.6},
{"r":19,"t":0,"e":2628.1},{"r":19,"t":10,"e":2635.6},{"r":19,"t":20,"e":2635.2},{"r":19,"t":30,"e":2634.0},{"r":19,"t":40,"e":2634.6},{"r":19,"t":50,"e":2633.4},{"r":19,"t":60,"e":2634.1},{"r":19,"t":70,"e":2632.9},{"r":19,"t":80,"e":2633.5},{"r":19,"t":90,"e":2632.3},{"r":19,"t":100,"e":2632.8},{"r":19,"t":110,"e":2631.6},{"r":19,"t":120,"e":2632.2},{"r":19,"t":130,"e":2630.9},{"r":19,"t":140,"e":2630.4},{"r":19,"t":150,"e":2631.0},{"r":19,"t":160,"e":2629.8},{"r":19,"t":170,"e":2630.1},{"r":19,"t":180,"e":2629.0},{"r":19,"t":190,"e":2628.5},{"r":19,"t":200,"e":2629.1},{"r":19,"t":210,"e":2627.9},{"r":19,"t":220,"e":2627.3},{"r":19,"t":230,"e":2628.0},{"r":19,"t":240,"e":2626.8},{"r":19,"t":250,"e":2626.2},{"r":19,"t":260,"e":2626.9},{"r":19,"t":270,"e":2625.7},{"r":19,"t":280,"e":2625.1},{"r":19,"t":290,"e":2625.8},{"r":19,"t":300,"e":2624.6},{"r":19,"t":310,"e":2624.0},{"r":19,"t":320,"e":2624.7},{"r":19,"t":330,"e":2623.5},{"r":19,"t":340,"e":2622.9},{"r":19,"t":350,"e":2623.6},{"r":19,"t":360,"e":2622.4},{"r":19,"t":370,"e":2621.8},{"r":19,"t":380,"e":2622.5},{"r":19,"t":390,"e":2621.3},{"r":19,"t":400,"e":2620.7},{"r":19,"t":410,"e":2621.4},{"r":19,"t":420,"e":2620.2},{"r":19,"t":430,"e":2619.6},{"r":19,"t":440,"e":2620.3},{"r":19,"t":450,"e":2619.1},{"r":19,"t":460,"e":2618.5},{"r":19,"t":470,"e":2619.2},{"r":19,"t":480,"e":2618.0},{"r":19,"t":490,"e":2618.6},{"r":19,"t":500,"e":2619.3},
{"r":20,"t":0,"e":2628.3},{"r":20,"t":10,"e":2633.2},{"r":20,"t":20,"e":2631.9},{"r":20,"t":30,"e":2632.4},{"r":20,"t":40,"e":2630.8},{"r":20,"t":50,"e":2631.5},{"r":20,"t":60,"e":2629.7},{"r":20,"t":70,"e":2630.9},{"r":20,"t":80,"e":2629.2},{"r":20,"t":90,"e":2628.6},{"r":20,"t":100,"e":2629.8},{"r":20,"t":110,"e":2628.1},{"r":20,"t":120,"e":2627.6},{"r":20,"t":130,"e":2628.7},{"r":20,"t":140,"e":2627.9},{"r":20,"t":150,"e":2626.5},{"r":20,"t":160,"e":2627.2},{"r":20,"t":170,"e":2626.8},{"r":20,"t":180,"e":2625.4},{"r":20,"t":190,"e":2626.3},{"r":20,"t":200,"e":2625.1},{"r":20,"t":210,"e":2624.6},{"r":20,"t":220,"e":2625.7},{"r":20,"t":230,"e":2624.0},{"r":20,"t":240,"e":2624.9},{"r":20,"t":250,"e":2623.5},{"r":20,"t":260,"e":2624.2},{"r":20,"t":270,"e":2622.8},{"r":20,"t":280,"e":2623.9},{"r":20,"t":290,"e":2622.4},{"r":20,"t":300,"e":2623.3},{"r":20,"t":310,"e":2622.0},{"r":20,"t":320,"e":2621.4},{"r":20,"t":330,"e":2622.6},{"r":20,"t":340,"e":2621.0},{"r":20,"t":350,"e":2621.8},{"r":20,"t":360,"e":2620.3},{"r":20,"t":370,"e":2621.5},{"r":20,"t":380,"e":2620.9},{"r":20,"t":390,"e":2619.6},{"r":20,"t":400,"e":2620.7},{"r":20,"t":410,"e":2619.2},{"r":20,"t":420,"e":2620.0},{"r":20,"t":430,"e":2618.8},{"r":20,"t":440,"e":2619.5},{"r":20,"t":450,"e":2618.1},{"r":20,"t":460,"e":2619.3},{"r":20,"t":470,"e":2618.6},{"r":20,"t":480,"e":2617.4},{"r":20,"t":490,"e":2618.2},{"r":20,"t":500,"e":2617.7},
{"r":21,"t":0,"e":2628.5},{"r":21,"t":10,"e":2635.0},{"r":21,"t":20,"e":2634.2},{"r":21,"t":30,"e":2635.1},{"r":21,"t":40,"e":2633.5},{"r":21,"t":50,"e":2634.0},{"r":21,"t":60,"e":2632.6},{"r":21,"t":70,"e":2633.8},{"r":21,"t":80,"e":2632.9},{"r":21,"t":90,"e":2634.5},{"r":21,"t":100,"e":2632.1},{"r":21,"t":110,"e":2631.8},{"r":21,"t":120,"e":2632.9},{"r":21,"t":130,"e":2631.2},{"r":21,"t":140,"e":2632.4},{"r":21,"t":150,"e":2630.6},{"r":21,"t":160,"e":2631.5},{"r":21,"t":170,"e":2630.0},{"r":21,"t":180,"e":2630.8},{"r":21,"t":190,"e":2629.9},{"r":21,"t":200,"e":2628.7},{"r":21,"t":210,"e":2630.2},{"r":21,"t":220,"e":2628.5},{"r":21,"t":230,"e":2629.6},{"r":21,"t":240,"e":2628.0},{"r":21,"t":250,"e":2627.4},{"r":21,"t":260,"e":2628.8},{"r":21,"t":270,"e":2627.0},{"r":21,"t":280,"e":2627.9},{"r":21,"t":290,"e":2626.4},{"r":21,"t":300,"e":2627.5},{"r":21,"t":310,"e":2626.0},{"r":21,"t":320,"e":2626.9},{"r":21,"t":330,"e":2625.3},{"r":21,"t":340,"e":2626.6},{"r":21,"t":350,"e":2625.0},{"r":21,"t":360,"e":2624.4},{"r":21,"t":370,"e":2625.8},{"r":21,"t":380,"e":2624.1},{"r":21,"t":390,"e":2625.2},{"r":21,"t":400,"e":2623.6},{"r":21,"t":410,"e":2624.7},{"r":21,"t":420,"e":2623.0},{"r":21,"t":430,"e":2624.3},{"r":21,"t":440,"e":2622.6},{"r":21,"t":450,"e":2623.9},{"r":21,"t":460,"e":2622.4},{"r":21,"t":470,"e":2621.7},{"r":21,"t":480,"e":2623.0},{"r":21,"t":490,"e":2621.9},{"r":21,"t":500,"e":2622.6},
{"r":22,"t":0,"e":2628.2},{"r":22,"t":10,"e":2634.3},{"r":22,"t":20,"e":2633.0},{"r":22,"t":30,"e":2633.9},{"r":22,"t":40,"e":2632.4},{"r":22,"t":50,"e":2632.0},{"r":22,"t":60,"e":2633.1},{"r":22,"t":70,"e":2631.5},{"r":22,"t":80,"e":2630.9},{"r":22,"t":90,"e":2631.9},{"r":22,"t":100,"e":2630.6},{"r":22,"t":110,"e":2631.4},{"r":22,"t":120,"e":2629.8},{"r":22,"t":130,"e":2630.5},{"r":22,"t":140,"e":2629.2},{"r":22,"t":150,"e":2628.7},{"r":22,"t":160,"e":2629.9},{"r":22,"t":170,"e":2628.3},{"r":22,"t":180,"e":2628.9},{"r":22,"t":190,"e":2627.5},{"r":22,"t":200,"e":2628.2},{"r":22,"t":210,"e":2626.9},{"r":22,"t":220,"e":2627.6},{"r":22,"t":230,"e":2626.1},{"r":22,"t":240,"e":2627.0},{"r":22,"t":250,"e":2625.6},{"r":22,"t":260,"e":2626.4},{"r":22,"t":270,"e":2625.0},{"r":22,"t":280,"e":2625.8},{"r":22,"t":290,"e":2624.5},{"r":22,"t":300,"e":2625.4},{"r":22,"t":310,"e":2623.9},{"r":22,"t":320,"e":2624.8},{"r":22,"t":330,"e":2623.4},{"r":22,"t":340,"e":2624.5},{"r":22,"t":350,"e":2623.0},{"r":22,"t":360,"e":2623.8},{"r":22,"t":370,"e":2622.4},{"r":22,"t":380,"e":2623.2},{"r":22,"t":390,"e":2621.8},{"r":22,"t":400,"e":2622.9},{"r":22,"t":410,"e":2621.4},{"r":22,"t":420,"e":2622.3},{"r":22,"t":430,"e":2620.9},{"r":22,"t":440,"e":2621.6},{"r":22,"t":450,"e":2620.3},{"r":22,"t":460,"e":2621.2},{"r":22,"t":470,"e":2619.8},{"r":22,"t":480,"e":2620.6},{"r":22,"t":490,"e":2619.5},{"r":22,"t":500,"e":2620.3},
{"r":23,"t":0,"e":2628.6},{"r":23,"t":10,"e":2633.6},{"r":23,"t":20,"e":2632.7},{"r":23,"t":30,"e":2631.6},{"r":23,"t":40,"e":2632.9},{"r":23,"t":50,"e":2631.0},{"r":23,"t":60,"e":2630.4},{"r":23,"t":70,"e":2631.6},{"r":23,"t":80,"e":2629.8},{"r":23,"t":90,"e":2630.5},{"r":23,"t":100,"e":2628.9},{"r":23,"t":110,"e":2628.2},{"r":23,"t":120,"e":2629.4},{"r":23,"t":130,"e":2627.6},{"r":23,"t":140,"e":2628.3},{"r":23,"t":150,"e":2626.9},{"r":23,"t":160,"e":2627.7},{"r":23,"t":170,"e":2626.2},{"r":23,"t":180,"e":2625.6},{"r":23,"t":190,"e":2626.7},{"r":23,"t":200,"e":2625.0},{"r":23,"t":210,"e":2625.8},{"r":23,"t":220,"e":2624.3},{"r":23,"t":230,"e":2623.7},{"r":23,"t":240,"e":2624.9},{"r":23,"t":250,"e":2623.2},{"r":23,"t":260,"e":2623.9},{"r":23,"t":270,"e":2622.5},{"r":23,"t":280,"e":2621.9},{"r":23,"t":290,"e":2623.0},{"r":23,"t":300,"e":2621.4},{"r":23,"t":310,"e":2622.2},{"r":23,"t":320,"e":2620.8},{"r":23,"t":330,"e":2620.3},{"r":23,"t":340,"e":2621.4},{"r":23,"t":350,"e":2619.8},{"r":23,"t":360,"e":2620.6},{"r":23,"t":370,"e":2619.2},{"r":23,"t":380,"e":2618.6},{"r":23,"t":390,"e":2619.7},{"r":23,"t":400,"e":2618.2},{"r":23,"t":410,"e":2619.0},{"r":23,"t":420,"e":2617.6},{"r":23,"t":430,"e":2618.4},{"r":23,"t":440,"e":2617.0},{"r":23,"t":450,"e":2617.8},{"r":23,"t":460,"e":2616.4},{"r":23,"t":470,"e":2617.3},{"r":23,"t":480,"e":2616.0},{"r":23,"t":490,"e":2616.8},{"r":23,"t":500,"e":2617.4},
{"r":24,"t":0,"e":2628.4},{"r":24,"t":10,"e":2634.7},{"r":24,"t":20,"e":2633.9},{"r":24,"t":30,"e":2632.8},{"r":24,"t":40,"e":2633.9},{"r":24,"t":50,"e":2632.6},{"r":24,"t":60,"e":2633.3},{"r":24,"t":70,"e":2631.7},{"r":24,"t":80,"e":2632.4},{"r":24,"t":90,"e":2631.0},{"r":24,"t":100,"e":2632.0},{"r":24,"t":110,"e":2630.4},{"r":24,"t":120,"e":2631.1},{"r":24,"t":130,"e":2629.8},{"r":24,"t":140,"e":2630.6},{"r":24,"t":150,"e":2629.0},{"r":24,"t":160,"e":2629.7},{"r":24,"t":170,"e":2628.4},{"r":24,"t":180,"e":2629.2},{"r":24,"t":190,"e":2627.8},{"r":24,"t":200,"e":2627.2},{"r":24,"t":210,"e":2628.4},{"r":24,"t":220,"e":2626.8},{"r":24,"t":230,"e":2627.7},{"r":24,"t":240,"e":2626.2},{"r":24,"t":250,"e":2627.0},{"r":24,"t":260,"e":2625.6},{"r":24,"t":270,"e":2626.5},{"r":24,"t":280,"e":2625.0},{"r":24,"t":290,"e":2625.9},{"r":24,"t":300,"e":2624.4},{"r":24,"t":310,"e":2625.3},{"r":24,"t":320,"e":2623.9},{"r":24,"t":330,"e":2624.8},{"r":24,"t":340,"e":2623.3},{"r":24,"t":350,"e":2624.1},{"r":24,"t":360,"e":2622.8},{"r":24,"t":370,"e":2623.6},{"r":24,"t":380,"e":2622.2},{"r":24,"t":390,"e":2623.1},{"r":24,"t":400,"e":2621.9},{"r":24,"t":410,"e":2622.8},{"r":24,"t":420,"e":2621.3},{"r":24,"t":430,"e":2622.0},{"r":24,"t":440,"e":2620.7},{"r":24,"t":450,"e":2621.6},{"r":24,"t":460,"e":2620.2},{"r":24,"t":470,"e":2621.0},{"r":24,"t":480,"e":2619.7},{"r":24,"t":490,"e":2620.5},{"r":24,"t":500,"e":2621.2},
{"r":25,"t":0,"e":2628.9},{"r":25,"t":10,"e":2635.3},{"r":25,"t":20,"e":2634.5},{"r":25,"t":30,"e":2633.2},{"r":25,"t":40,"e":2634.0},{"r":25,"t":50,"e":2632.4},{"r":25,"t":60,"e":2631.8},{"r":25,"t":70,"e":2633.0},{"r":25,"t":80,"e":2631.4},{"r":25,"t":90,"e":2632.1},{"r":25,"t":100,"e":2630.5},{"r":25,"t":110,"e":2631.3},{"r":25,"t":120,"e":2629.8},{"r":25,"t":130,"e":2630.9},{"r":25,"t":140,"e":2629.3},{"r":25,"t":150,"e":2630.0},{"r":25,"t":160,"e":2628.4},{"r":25,"t":170,"e":2629.1},{"r":25,"t":180,"e":2627.6},{"r":25,"t":190,"e":2628.5},{"r":25,"t":200,"e":2627.1},{"r":25,"t":210,"e":2627.9},{"r":25,"t":220,"e":2626.4},{"r":25,"t":230,"e":2627.3},{"r":25,"t":240,"e":2625.9},{"r":25,"t":250,"e":2626.6},{"r":25,"t":260,"e":2628.4},{"r":25,"t":270,"e":2625.7},{"r":25,"t":280,"e":2626.3},{"r":25,"t":290,"e":2624.9},{"r":25,"t":300,"e":2625.6},{"r":25,"t":310,"e":2624.2},{"r":25,"t":320,"e":2625.0},{"r":25,"t":330,"e":2623.6},{"r":25,"t":340,"e":2624.4},{"r":25,"t":350,"e":2623.0},{"r":25,"t":360,"e":2623.8},{"r":25,"t":370,"e":2622.4},{"r":25,"t":380,"e":2623.1},{"r":25,"t":390,"e":2621.7},{"r":25,"t":400,"e":2622.5},{"r":25,"t":410,"e":2621.2},{"r":25,"t":420,"e":2622.0},{"r":25,"t":430,"e":2620.6},{"r":25,"t":440,"e":2621.3},{"r":25,"t":450,"e":2619.9},{"r":25,"t":460,"e":2620.7},{"r":25,"t":470,"e":2619.4},{"r":25,"t":480,"e":2618.9},{"r":25,"t":490,"e":2618.1},{"r":25,"t":500,"e":2617.5},
{"r":26,"t":0,"e":2628.2},{"r":26,"t":10,"e":2633.8},{"r":26,"t":20,"e":2632.4},{"r":26,"t":30,"e":2631.2},{"r":26,"t":40,"e":2631.9},{"r":26,"t":50,"e":2630.3},{"r":26,"t":60,"e":2631.1},{"r":26,"t":70,"e":2629.5},{"r":26,"t":80,"e":2630.2},{"r":26,"t":90,"e":2628.7},{"r":26,"t":100,"e":2629.5},{"r":26,"t":110,"e":2628.0},{"r":26,"t":120,"e":2628.8},{"r":26,"t":130,"e":2627.3},{"r":26,"t":140,"e":2628.0},{"r":26,"t":150,"e":2626.5},{"r":26,"t":160,"e":2627.4},{"r":26,"t":170,"e":2625.9},{"r":26,"t":180,"e":2626.7},{"r":26,"t":190,"e":2625.3},{"r":26,"t":200,"e":2626.0},{"r":26,"t":210,"e":2624.6},{"r":26,"t":220,"e":2625.5},{"r":26,"t":230,"e":2624.0},{"r":26,"t":240,"e":2624.8},{"r":26,"t":250,"e":2623.4},{"r":26,"t":260,"e":2624.2},{"r":26,"t":270,"e":2622.9},{"r":26,"t":280,"e":2623.7},{"r":26,"t":290,"e":2622.3},{"r":26,"t":300,"e":2623.1},{"r":26,"t":310,"e":2621.7},{"r":26,"t":320,"e":2622.5},{"r":26,"t":330,"e":2621.2},{"r":26,"t":340,"e":2622.0},{"r":26,"t":350,"e":2620.6},{"r":26,"t":360,"e":2621.4},{"r":26,"t":370,"e":2620.1},{"r":26,"t":380,"e":2620.8},{"r":26,"t":390,"e":2619.5},{"r":26,"t":400,"e":2620.3},{"r":26,"t":410,"e":2619.0},{"r":26,"t":420,"e":2619.7},{"r":26,"t":430,"e":2618.5},{"r":26,"t":440,"e":2619.3},{"r":26,"t":450,"e":2618.0},{"r":26,"t":460,"e":2618.8},{"r":26,"t":470,"e":2617.6},{"r":26,"t":480,"e":2618.3},{"r":26,"t":490,"e":2617.1},{"r":26,"t":500,"e":2617.9},
{"r":27,"t":0,"e":2628.7},{"r":27,"t":10,"e":2634.2},{"r":27,"t":20,"e":2633.4},{"r":27,"t":30,"e":2634.3},{"r":27,"t":40,"e":2632.7},{"r":27,"t":50,"e":2633.5},{"r":27,"t":60,"e":2632.0},{"r":27,"t":70,"e":2632.8},{"r":27,"t":80,"e":2631.3},{"r":27,"t":90,"e":2632.2},{"r":27,"t":100,"e":2630.8},{"r":27,"t":110,"e":2631.6},{"r":27,"t":120,"e":2630.2},{"r":27,"t":130,"e":2631.0},{"r":27,"t":140,"e":2629.6},{"r":27,"t":150,"e":2630.3},{"r":27,"t":160,"e":2628.9},{"r":27,"t":170,"e":2629.8},{"r":27,"t":180,"e":2628.4},{"r":27,"t":190,"e":2629.1},{"r":27,"t":200,"e":2627.8},{"r":27,"t":210,"e":2628.6},{"r":27,"t":220,"e":2627.2},{"r":27,"t":230,"e":2628.0},{"r":27,"t":240,"e":2626.7},{"r":27,"t":250,"e":2627.5},{"r":27,"t":260,"e":2626.1},{"r":27,"t":270,"e":2626.9},{"r":27,"t":280,"e":2625.6},{"r":27,"t":290,"e":2626.3},{"r":27,"t":300,"e":2625.0},{"r":27,"t":310,"e":2625.9},{"r":27,"t":320,"e":2624.5},{"r":27,"t":330,"e":2625.3},{"r":27,"t":340,"e":2624.0},{"r":27,"t":350,"e":2624.8},{"r":27,"t":360,"e":2623.5},{"r":27,"t":370,"e":2624.3},{"r":27,"t":380,"e":2623.9},{"r":27,"t":390,"e":2624.9},{"r":27,"t":400,"e":2623.4},{"r":27,"t":410,"e":2624.6},{"r":27,"t":420,"e":2623.8},{"r":27,"t":430,"e":2625.0},{"r":27,"t":440,"e":2624.2},{"r":27,"t":450,"e":2625.7},{"r":27,"t":460,"e":2626.8},{"r":27,"t":470,"e":2625.1},{"r":27,"t":480,"e":2624.3},{"r":27,"t":490,"e":2622.8},{"r":27,"t":500,"e":2623.4},
{"r":28,"t":0,"e":2628.5},{"r":28,"t":10,"e":2633.5},{"r":28,"t":20,"e":2634.6},{"r":28,"t":30,"e":2633.1},{"r":28,"t":40,"e":2633.9},{"r":28,"t":50,"e":2632.2},{"r":28,"t":60,"e":2633.0},{"r":28,"t":70,"e":2631.4},{"r":28,"t":80,"e":2632.3},{"r":28,"t":90,"e":2630.8},{"r":28,"t":100,"e":2631.7},{"r":28,"t":110,"e":2630.3},{"r":28,"t":120,"e":2631.2},{"r":28,"t":130,"e":2629.7},{"r":28,"t":140,"e":2630.5},{"r":28,"t":150,"e":2629.1},{"r":28,"t":160,"e":2630.0},{"r":28,"t":170,"e":2628.6},{"r":28,"t":180,"e":2629.5},{"r":28,"t":190,"e":2630.9},{"r":28,"t":200,"e":2628.7},{"r":28,"t":210,"e":2629.3},{"r":28,"t":220,"e":2627.9},{"r":28,"t":230,"e":2628.8},{"r":28,"t":240,"e":2627.4},{"r":28,"t":250,"e":2628.1},{"r":28,"t":260,"e":2626.8},{"r":28,"t":270,"e":2627.6},{"r":28,"t":280,"e":2626.2},{"r":28,"t":290,"e":2627.0},{"r":28,"t":300,"e":2625.7},{"r":28,"t":310,"e":2626.5},{"r":28,"t":320,"e":2625.1},{"r":28,"t":330,"e":2625.9},{"r":28,"t":340,"e":2624.6},{"r":28,"t":350,"e":2625.4},{"r":28,"t":360,"e":2624.0},{"r":28,"t":370,"e":2624.9},{"r":28,"t":380,"e":2623.5},{"r":28,"t":390,"e":2624.3},{"r":28,"t":400,"e":2623.0},{"r":28,"t":410,"e":2623.8},{"r":28,"t":420,"e":2622.4},{"r":28,"t":430,"e":2623.3},{"r":28,"t":440,"e":2621.9},{"r":28,"t":450,"e":2622.7},{"r":28,"t":460,"e":2621.5},{"r":28,"t":470,"e":2622.2},{"r":28,"t":480,"e":2621.0},{"r":28,"t":490,"e":2621.8},{"r":28,"t":500,"e":2622.1},
{"r":29,"t":0,"e":2628.3},{"r":29,"t":10,"e":2634.0},{"r":29,"t":20,"e":2633.1},{"r":29,"t":30,"e":2633.7},{"r":29,"t":40,"e":2632.0},{"r":29,"t":50,"e":2632.7},{"r":29,"t":60,"e":2631.2},{"r":29,"t":70,"e":2632.0},{"r":29,"t":80,"e":2630.5},{"r":29,"t":90,"e":2631.3},{"r":29,"t":100,"e":2629.9},{"r":29,"t":110,"e":2630.6},{"r":29,"t":120,"e":2629.1},{"r":29,"t":130,"e":2629.9},{"r":29,"t":140,"e":2628.4},{"r":29,"t":150,"e":2629.2},{"r":29,"t":160,"e":2627.7},{"r":29,"t":170,"e":2628.5},{"r":29,"t":180,"e":2627.0},{"r":29,"t":190,"e":2627.8},{"r":29,"t":200,"e":2626.4},{"r":29,"t":210,"e":2627.1},{"r":29,"t":220,"e":2625.6},{"r":29,"t":230,"e":2626.4},{"r":29,"t":240,"e":2625.0},{"r":29,"t":250,"e":2625.7},{"r":29,"t":260,"e":2624.3},{"r":29,"t":270,"e":2625.0},{"r":29,"t":280,"e":2623.6},{"r":29,"t":290,"e":2624.4},{"r":29,"t":300,"e":2622.9},{"r":29,"t":310,"e":2623.7},{"r":29,"t":320,"e":2622.3},{"r":29,"t":330,"e":2623.0},{"r":29,"t":340,"e":2621.6},{"r":29,"t":350,"e":2622.4},{"r":29,"t":360,"e":2620.9},{"r":29,"t":370,"e":2621.7},{"r":29,"t":380,"e":2620.3},{"r":29,"t":390,"e":2621.0},{"r":29,"t":400,"e":2619.6},{"r":29,"t":410,"e":2620.4},{"r":29,"t":420,"e":2618.9},{"r":29,"t":430,"e":2619.7},{"r":29,"t":440,"e":2618.3},{"r":29,"t":450,"e":2619.0},{"r":29,"t":460,"e":2617.6},{"r":29,"t":470,"e":2618.4},{"r":29,"t":480,"e":2616.9},{"r":29,"t":490,"e":2617.5},{"r":29,"t":500,"e":2616.0}
  ]},
  "mark": {"type": "line", "strokeWidth": 2, "clip": true},
  "encoding": {
    "x": {
      "field": "t", "type": "quantitative",
      "scale": {"domain": [-25, 525], "nice": false, "zero": false},
      "axis": {"title": "Simulation Time ( Picoseconds )", "values": [0, 100, 200, 300, 400, 500], "titlePadding": 6}
    },
    "y": {
      "field": "e", "type": "quantitative",
      "scale": {"domain": [2612.47, 2639.93], "nice": false, "zero": false},
      "axis": {"title": "Potential Energy ( kJ / mol )", "values": [2615, 2620, 2625, 2630, 2635], "format": "d", "titlePadding": 14}
    },
    "color": {
      "field": "r", "type": "nominal", "legend": null,
      "scale": {
        "domain": [0, 1, 2, 3, 4, 5, 6, 7, 8, 9, 10, 11, 12, 13, 14, 15, 16, 17, 18, 19, 20, 21, 22, 23, 24, 25, 26, 27, 28, 29],
        "range": ["#1f77b4", "#ff7f0e", "#2ca02c", "#d62728", "#9467bd", "#8c564b", "#e377c2", "#7f7f7f", "#bcbd22", "#17becf", "#1f77b4", "#ff7f0e", "#2ca02c", "#d62728", "#9467bd", "#8c564b", "#e377c2", "#7f7f7f", "#bcbd22", "#17becf", "#1f77b4", "#ff7f0e", "#2ca02c", "#d62728", "#9467bd", "#8c564b", "#e377c2", "#7f7f7f", "#bcbd22", "#17becf"]
      }
    },
    "order": {"field": "t", "type": "quantitative"}
  },
  "config": {
    "view": {"stroke": "black", "strokeWidth": 1.1},
    "axis": {
      "grid": false, "domain": false,
      "tickColor": "black", "tickSize": 4.9, "tickWidth": 1.1,
      "labelColor": "black", "labelFont": "DejaVu Sans", "labelFontSize": 13.9, "labelPadding": 4,
      "titleColor": "black", "titleFont": "DejaVu Sans", "titleFontSize": 13.9, "titleFontWeight": "normal"
    }
  }
}
